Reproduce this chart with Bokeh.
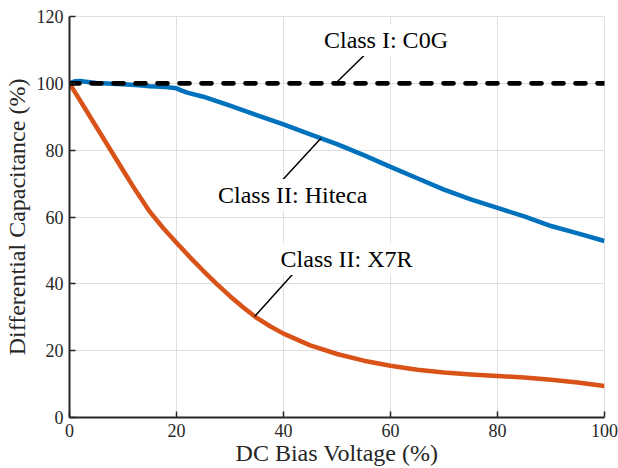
from bokeh.plotting import figure
from bokeh.models import Range1d, Label, FixedTicker
from bokeh.embed import file_html
from bokeh.resources import INLINE

# ---- data ----
c0g_x = [0, 100]
c0g_y = [100, 100]

hiteca_x = [0, 1, 2, 3, 5, 8, 10, 13, 15, 18, 20, 21, 22, 25, 30, 35, 40, 45, 50, 55, 60, 65, 70, 75, 80, 85, 90, 95, 100]
hiteca_y = [100, 100.6, 100.7, 100.5, 100.1, 99.9, 99.7, 99.4, 99.1, 98.9, 98.5, 97.8, 97.2, 96.0, 93.3, 90.5, 87.7, 84.7, 81.8, 78.5, 75.0, 71.6, 68.2, 65.3, 62.7, 60.2, 57.3, 55.1, 52.8]

x7r_x = [0, 2.5, 5, 7.5, 10, 12.5, 15, 17.5, 20, 22.5, 25, 27.5, 30, 32.5, 35, 37.5, 40, 45, 50, 55, 60, 65, 70, 75, 80, 85, 90, 95, 100]
x7r_y = [100, 93.5, 87.0, 80.5, 74.0, 67.6, 61.6, 56.7, 52.3, 48.0, 43.9, 40.0, 36.3, 32.9, 29.8, 27.3, 25.1, 21.6, 19.0, 17.0, 15.5, 14.3, 13.5, 12.9, 12.4, 12.0, 11.3, 10.5, 9.4]

x_ticks = [0, 20, 40, 60, 80, 100]
y_ticks = [0, 20, 40, 60, 80, 100, 120]

labels = ["Class I: C0G", "Class II: Hiteca", "Class II: X7R"]
label_pos = [(47.0, 113.0), (27.2, 66.6), (38.9, 47.4)]
pointer_from = [(55.1, 108.4), (39.9, 71.2), (42.0, 43.4)]
pointer_to = [(49.8, 100.1), (47.0, 83.6), (34.6, 30.2)]

FONT = "Liberation Serif"
AX = "#262626"

p = figure(width=618, height=468, output_backend="svg", toolbar_location=None,
           x_range=Range1d(0, 100), y_range=Range1d(0, 120))
p.min_border_left = 68
p.min_border_right = 14
p.min_border_top = 16
p.min_border_bottom = 49
p.outline_line_color = "#dfdfdf"
p.outline_line_width = 1

for ax in (p.xaxis[0], p.yaxis[0]):
    ax.major_label_text_font = FONT
    ax.major_label_text_font_size = "18px"
    ax.major_label_text_color = AX
    ax.axis_label_text_font = FONT
    ax.axis_label_text_font_size = "24px"
    ax.axis_label_text_font_style = "normal"
    ax.axis_label_text_color = AX
    ax.axis_line_color = AX
    ax.axis_line_width = 2
    ax.major_tick_line_color = AX
    ax.major_tick_line_width = 1.5
    ax.major_tick_in = 6
    ax.major_tick_out = 0
    ax.minor_tick_line_color = None

p.xaxis.ticker = FixedTicker(ticks=x_ticks)
p.yaxis.ticker = FixedTicker(ticks=y_ticks)
p.xaxis.axis_label = "DC Bias Voltage (%)"
p.yaxis.axis_label = "Differential Capacitance (%)"
p.xaxis.major_label_standoff = 6
p.yaxis.major_label_standoff = 6
p.xaxis.axis_label_standoff = 0
p.yaxis.axis_label_standoff = 4

p.grid.grid_line_color = "#dfdfdf"
p.grid.grid_line_width = 1

p.line(x7r_x, x7r_y, line_color="#D95319", line_width=4.5, line_join="round")
p.line(hiteca_x, hiteca_y, line_color="#0072BD", line_width=4.5, line_join="round")
p.line(c0g_x, c0g_y, line_color="black", line_width=4.7, line_dash="10 12", line_cap="round")

for (x0, y0), (x1, y1) in zip(pointer_from, pointer_to):
    p.segment(x0=[x0], y0=[y0], x1=[x1], y1=[y1], line_color="black", line_width=1.5)

for txt, (lx, ly) in zip(labels, label_pos):
    p.add_layout(Label(x=lx, y=ly, text=txt, text_font=FONT, text_font_size="24px",
                       text_color="black", text_baseline="alphabetic",
                       background_fill_color="white", padding=3))

open("out.html", "w").write(file_html(p, INLINE))
